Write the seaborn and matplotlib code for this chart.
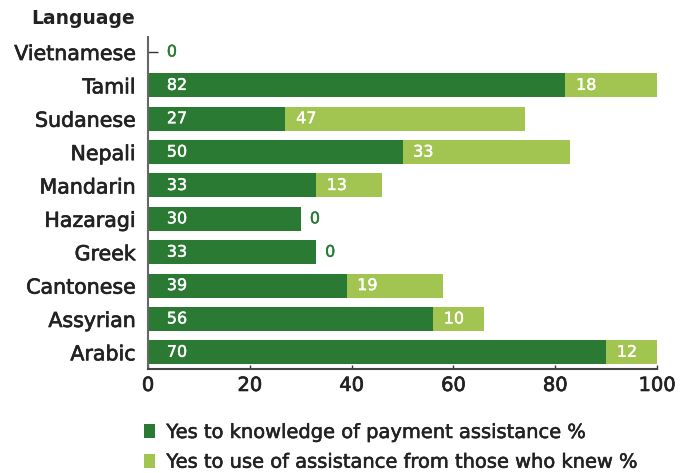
import matplotlib
matplotlib.use("Agg")
import matplotlib.pyplot as plt
import matplotlib.patheffects as pe
import seaborn as sns
import pandas as pd
from matplotlib.patches import Patch

languages = ["Vietnamese", "Tamil", "Sudanese", "Nepali", "Mandarin",
             "Hazaragi", "Greek", "Cantonese", "Assyrian", "Arabic"]
knowledge = [0, 82, 27, 50, 33, 30, 33, 39, 56, 90]      # drawn bar lengths
use_of_assistance = [0, 18, 47, 33, 13, 0, 0, 19, 10, 10]
knowledge_labels = ["0", "82", "27", "50", "33", "30", "33", "39", "56", "70"]
use_labels = ["", "18", "47", "33", "13", "0", "0", "19", "10", "12"]
x_ticks = [0, 20, 40, 60, 80, 100]
legend_labels = ["Yes to knowledge of payment assistance %",
                 "Yes to use of assistance from those who knew %"]

DARK = "#2a7a33"
LIGHT = "#a2c450"
TEXT = "#222222"

sns.set_theme(style="white")
plt.rcParams["font.family"] = ["DejaVu Sans"]

def thick(color, w=0.45):
    return [pe.withStroke(linewidth=w, foreground=color)]

df = pd.DataFrame({
    "Language": languages,
    "knowledge": knowledge,
    "use": use_of_assistance,
})
df["total"] = df["knowledge"] + df["use"]

fig = plt.figure(figsize=(6.91, 4.73), dpi=100)
ax = fig.add_axes([148 / 691, 1 - 369 / 473, (657 - 148) / 691, (369 - 37) / 473])

sns.barplot(data=df, y="Language", x="total", orient="h", color=LIGHT,
            width=0.72, saturation=1, linewidth=0, ax=ax, order=languages)
sns.barplot(data=df, y="Language", x="knowledge", orient="h", color=DARK,
            width=0.72, saturation=1, linewidth=0, ax=ax, order=languages)

VAL_FS = 11.5
for i, (k, u, kl, ul) in enumerate(zip(knowledge, use_of_assistance,
                                        knowledge_labels, use_labels)):
    c = "white" if k > 0 else DARK
    ax.text(3.7, i, kl, color=c, fontsize=VAL_FS, va="center", ha="left",
            path_effects=thick(c, 0.3))
    if ul:
        c = "white" if u > 0 else DARK
        ax.text(k + (2.1 if u > 0 else 1.8), i, ul, color=c, fontsize=VAL_FS,
                va="center", ha="left", path_effects=thick(c, 0.3))

ax.set_xlim(0, 100)
ax.set_ylim(9.5, -0.45)
ax.set_xticks(x_ticks)
ax.set_xticklabels([str(t) for t in x_ticks], fontsize=14, color=TEXT)
ax.set_ylabel("")
ax.set_xlabel("")
ax.tick_params(axis="y", direction="in", length=7, width=1, color="#333333",
               labelsize=14.8, labelcolor=TEXT, pad=9, left=True)
ax.tick_params(axis="x", direction="in", length=3, width=1, color="#333333",
               pad=5, bottom=True)
for lab in ax.get_yticklabels() + ax.get_xticklabels():
    lab.set_path_effects(thick(TEXT, 0.5))

for s in ["top", "right"]:
    ax.spines[s].set_visible(False)
ax.spines["left"].set_color("#666666")
ax.spines["left"].set_linewidth(1.5)
ax.spines["bottom"].set_color("#444444")
ax.spines["bottom"].set_linewidth(1.5)

fig.text(135 / 691, 1 - 18 / 473, "Language", ha="right", va="center",
         fontsize=13.5, fontweight="bold", color=TEXT)

handles = [Patch(facecolor=DARK, linewidth=0), Patch(facecolor=LIGHT, linewidth=0)]
leg = fig.legend(handles, legend_labels, loc="upper left",
                 bbox_to_anchor=(144 / 691, 1 - 423 / 473), frameon=False,
                 fontsize=14, handlelength=0.55, handleheight=0.7,
                 handletextpad=0.6, labelspacing=0.55, borderaxespad=0,
                 borderpad=0, labelcolor=TEXT)
for t in leg.get_texts():
    t.set_path_effects(thick(TEXT, 0.4))

fig.savefig("out.png", dpi=100)
